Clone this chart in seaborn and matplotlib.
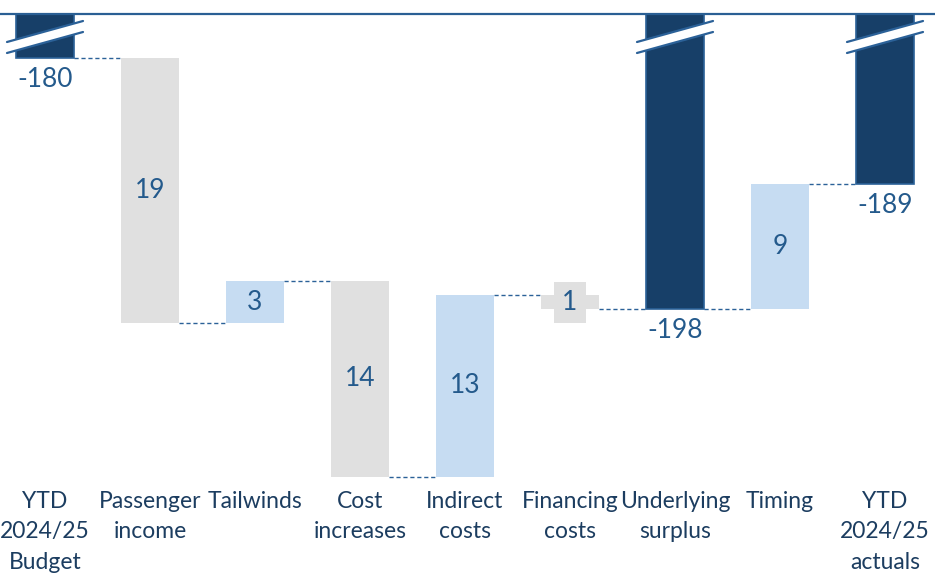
import numpy as np
import matplotlib
matplotlib.use("Agg")
import matplotlib.pyplot as plt
import matplotlib.transforms as mtransforms
import seaborn as sns

# ---- data ----
categories = ["YTD\n2024/25\nBudget", "Passenger\nincome", "Tailwinds", "Cost\nincreases",
              "Indirect\ncosts", "Financing\ncosts", "Underlying\nsurplus", "Timing",
              "YTD\n2024/25\nactuals"]
values = [-180, -19, 3, -14, 13, -1, -198, 9, -189]
kinds = ["total", "delta", "delta", "delta", "delta", "delta", "total", "delta", "total"]
value_labels = ["-180", "19", "3", "14", "13", "1", "-198", "9", "-189"]

DARK = "#173f68"
DARK_EDGE = "#2b6198"
GREY = "#e0e0e0"
LIGHT = "#c6dcf2"
NUM_COL = "#245a8c"
CAT_COL = "#1c3d60"

sns.set_style("white")
plt.rcParams["font.family"] = ["Lato", "DejaVu Sans"]

# running levels
starts, ends = [], []
level = 0.0
for v, k in zip(values, kinds):
    if k == "total":
        starts.append(np.nan)
        level = v
        ends.append(level)
    else:
        starts.append(level)
        level = level + v
        ends.append(level)

lower = [e if k == "total" else min(s, e) for s, e, k in zip(starts, ends, kinds)]
upper = [np.nan if k == "total" else max(s, e) for s, e, k in zip(starts, ends, kinds)]
colors = [DARK if k == "total" else (GREY if v < 0 else LIGHT) for v, k in zip(values, kinds)]

fig = plt.figure(figsize=(9.35, 5.77), dpi=100)
ax = fig.add_axes([0, 1 - 480 / 577, 1, (480 - 14) / 577])

W = 0.56
sns.barplot(x=categories, y=lower, hue=categories, order=categories, hue_order=categories,
            palette=colors, saturation=1, width=W, legend=False, errorbar=None, ax=ax,
            linewidth=0)
for p, k in zip(ax.patches, kinds):
    if k == "total":
        p.set_edgecolor(DARK_EDGE)
        p.set_linewidth(1.2)
sns.barplot(x=categories, y=upper, order=categories, color="white", saturation=1,
            width=W, errorbar=None, ax=ax, linewidth=0)

ax.set_xlim(-45 / 105, (935 - 45) / 105)
ax.set_ylim(-180 - (480 - 58) / 13.95, -180 + (58 - 14) / 13.95)

# connectors
for i in range(len(values) - 1):
    y = ends[i]
    ax.plot([i + W / 2, i + 1 - W / 2], [y, y], ls=(0, (3, 2)), color=DARK_EDGE,
            lw=1.0, zorder=3)

# value labels
for i, (k, lab) in enumerate(zip(kinds, value_labels)):
    if k == "total":
        ax.annotate(lab, (i, ends[i]), xytext=(0, -6.5), textcoords="offset points",
                    ha="center", va="top", fontsize=19, color=NUM_COL, zorder=5)
    else:
        mid = (starts[i] + ends[i]) / 2
        bbox = None
        if abs(values[i]) < 2:
            bbox = dict(boxstyle="square,pad=0.3", fc=GREY, ec="none")
        ax.text(i, mid, lab, ha="center", va="center", fontsize=19, color=NUM_COL,
                zorder=5, bbox=bbox)

# break marks on total bars
trans = mtransforms.blended_transform_factory(ax.transData, ax.transAxes)
for i, k in enumerate(kinds):
    if k != "total":
        continue
    xl, xr = i - 0.362, i + 0.362
    yl_top, yl_bot = (480 - 42) / 466, (480 - 53) / 466
    yr_top, yr_bot = (480 - 21) / 466, (480 - 32) / 466
    ax.fill([xl, xr, xr, xl], [yl_top, yr_top, yr_bot, yl_bot], color="white",
            transform=trans, zorder=4, lw=0)
    ax.plot([xl, xr], [yl_top, yr_top], color=DARK_EDGE, lw=1.6, transform=trans, zorder=4)
    ax.plot([xl, xr], [yl_bot, yr_bot], color=DARK_EDGE, lw=1.6, transform=trans, zorder=4)

for s in ["left", "right", "bottom"]:
    ax.spines[s].set_visible(False)
ax.spines["top"].set_visible(True)
ax.spines["top"].set_color("#2a5f94")
ax.spines["top"].set_linewidth(1.6)
ax.set_yticks([])
ax.set_ylabel("")
ax.set_xlabel("")
ax.tick_params(axis="x", length=0, pad=8, labelsize=16.5, colors=CAT_COL)
for t in ax.get_xticklabels():
    t.set_linespacing(1.55)

fig.savefig("out.png", dpi=100)
